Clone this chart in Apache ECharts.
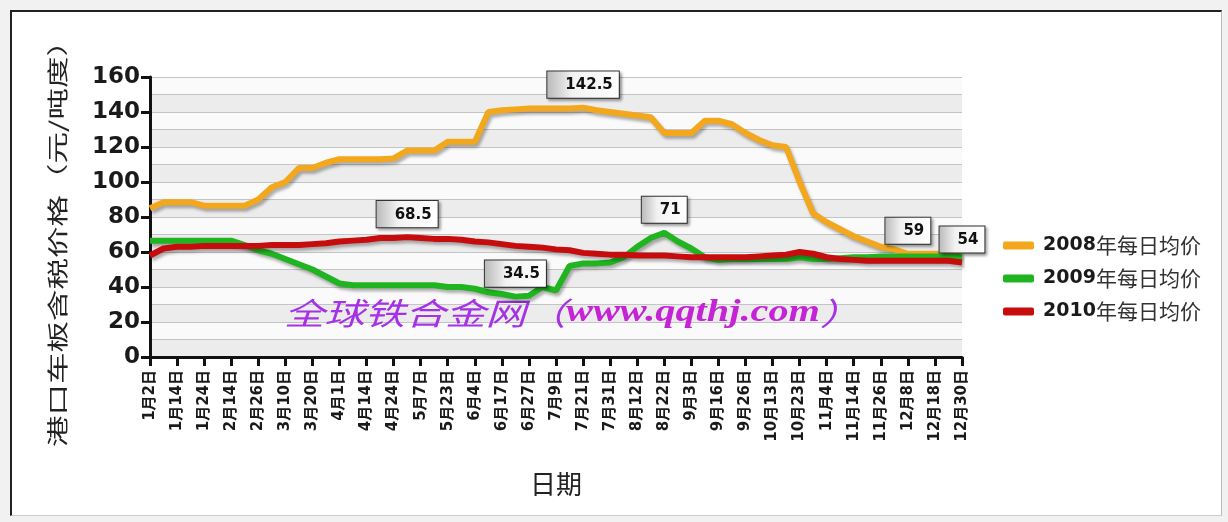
<!DOCTYPE html>
<html>
<head>
<meta charset="utf-8">
<title>港口车板含税价格</title>
<script src="https://cdn.jsdelivr.net/npm/echarts@6/dist/echarts.min.js"></script>
<style>
  html, body { margin: 0; padding: 0; background: #f1f1f1; }
  #frame { position: absolute; left: 10px; top: 10px; width: 1209px; height: 503px; background: #fff;
    border-top: 2px solid #222; border-left: 2px solid #222; border-right: 1px solid #bbb; border-bottom: 1px solid #ccc; }
  #chart { position: absolute; left: 0; top: 0; width: 1228px; height: 522px; }
</style>
</head>
<body>
<div id="frame"></div>
<div id="chart"></div>
<script>
// 日期（每两个取一个显示）
const dates = [
  '1月2日', '1月8日', '1月14日', '1月19日', '1月24日', '2月4日', '2月14日', '2月20日', '2月26日', '3月4日',
  '3月10日', '3月15日', '3月20日', '3月26日', '4月1日', '4月8日', '4月14日', '4月19日', '4月24日', '4月30日',
  '5月7日', '5月15日', '5月23日', '5月29日', '6月4日', '6月11日', '6月17日', '6月22日', '6月27日', '7月3日',
  '7月9日', '7月15日', '7月21日', '7月26日', '7月31日', '8月6日', '8月12日', '8月17日', '8月22日', '8月28日',
  '9月3日', '9月10日', '9月16日', '9月21日', '9月26日', '10月9日', '10月13日', '10月18日', '10月23日', '10月29日',
  '11月4日', '11月9日', '11月14日', '11月20日', '11月26日', '12月2日', '12月8日', '12月13日', '12月18日', '12月24日',
  '12月30日'
]
const seriesNames = ['2008年每日均价', '2009年每日均价', '2010年每日均价']
// 2008年
const price2008 = [
  85, 88.5, 88.5, 88.5, 86.5, 86.5, 86.5, 86.5, 90, 97,
  100, 108, 108, 111, 113, 113, 113, 113, 113.5, 118,
  118, 118, 123, 123, 123, 140, 141, 141.5, 142, 142,
  142, 142, 142.5, 141, 140, 139, 138, 137, 128, 128,
  128, 135, 135, 133, 128, 124, 121, 120, 100, 82,
  77, 73, 69, 66, 63, 61.5, 59, 59, 59, 59,
  59
]
// 2009年
const price2009 = [
  66.5, 66.5, 66.5, 66.5, 66.5, 66.5, 66.5, 64, 61, 59,
  56, 53, 50, 46, 42, 41, 41, 41, 41, 41,
  41, 41, 40, 40, 39, 37, 36, 34.5, 35, 40,
  38, 52, 53.5, 53.5, 54, 57, 63, 68, 71, 66,
  62, 57, 55.5, 56, 56, 56, 56, 56, 57, 56,
  56, 56.5, 57, 57, 57.5, 57.5, 57.5, 57.5, 57.5, 57.5,
  57
]
// 2010年
const price2010 = [
  58, 62, 63, 63, 63.5, 63.5, 63.5, 63.5, 63.5, 64,
  64, 64, 64.5, 65, 66, 66.5, 67, 68, 68, 68.5,
  68, 67.5, 67.5, 67, 66, 65.5, 64.5, 63.5, 63, 62.5,
  61.5, 61, 59.5, 59, 58.5, 58.5, 58, 58, 58, 57.5,
  57, 57, 57, 57, 57, 57.5, 58, 58.5, 60, 59,
  57, 56, 55.5, 55, 55, 55, 55, 55, 55, 55,
  54
]
const colors = ['#f2a71c', '#20b520', '#c60c0c']

const numFont = "'DejaVu Sans', 'Noto Sans CJK SC', sans-serif"
const cjkFont = "'Noto Sans CJK SC', sans-serif"

// 最高/最低值标签
const markLabel = {
  show: true,
  position: 'top',
  distance: 10,
  formatter: '{c}',
  fontFamily: numFont,
  fontWeight: 'bold',
  fontSize: 15,
  color: '#111',
  backgroundColor: new echarts.graphic.LinearGradient(0, 0, 1, 0, [
    { offset: 0, color: '#b8b8b8' },
    { offset: 0.35, color: '#f2f2f2' },
    { offset: 1, color: '#ffffff' }
  ]),
  borderColor: '#333',
  borderWidth: 1,
  padding: [6, 6, 5, 18],
  shadowColor: 'rgba(0,0,0,0.35)',
  shadowBlur: 3,
  shadowOffsetX: 2,
  shadowOffsetY: 2
}

function makeSeries(idx, data) {
  return {
    name: seriesNames[idx],
    type: 'line',
    data: data,
    showSymbol: false,
    symbol: 'none',
    color: colors[idx],
    lineStyle: {
      width: 6,
      color: colors[idx],
      shadowColor: 'rgba(0,0,0,0.3)',
      shadowBlur: 3,
      shadowOffsetX: 2,
      shadowOffsetY: 3
    },
    markPoint: {
      symbol: 'circle',
      symbolSize: 0,
      label: markLabel,
      data: [{ type: 'max' }, { type: 'min' }]
    }
  }
}

const chart = echarts.init(document.getElementById('chart'))
const option = {
  animation: false,
  backgroundColor: 'transparent',
  grid: { left: 150, right: 266, top: 77, bottom: 165 },
  legend: {
    orient: 'vertical',
    left: 998,
    top: 230,
    itemWidth: 31,
    itemHeight: 8,
    itemGap: 12,
    icon: 'roundRect',
    data: seriesNames,
    formatter: name => '{n|' + name.slice(0, 4) + '}{c|' + name.slice(4) + '}',
    textStyle: {
      rich: {
        n: { fontFamily: numFont, fontWeight: 'bold', fontSize: 19, color: '#1a1a1a', padding: [0, 0, 0, 4] },
        c: { fontFamily: cjkFont, fontSize: 21, color: '#333' }
      }
    }
  },
  xAxis: {
    type: 'category',
    boundaryGap: false,
    data: dates,
    name: '日期',
    nameLocation: 'middle',
    nameGap: 114,
    nameTextStyle: { fontFamily: cjkFont, fontSize: 26, color: '#222' },
    axisLine: { lineStyle: { color: '#111', width: 3 } },
    axisTick: { interval: 1, length: 9, lineStyle: { color: '#111', width: 3 } },
    axisLabel: {
      interval: 1,
      rotate: 90,
      margin: 13,
      fontFamily: numFont,
      fontWeight: 'bold',
      fontSize: 15,
      color: '#1a1a1a'
    },
    splitLine: { show: false }
  },
  yAxis: [{
    type: 'value',
    min: 0,
    max: 160,
    interval: 20,
    axisLine: { show: true, lineStyle: { color: '#111', width: 3 } },
    axisTick: { show: true, length: 9, lineStyle: { color: '#111', width: 3 } },
    axisLabel: {
      margin: 10,
      fontFamily: numFont,
      fontWeight: 'bold',
      fontSize: 23,
      color: '#1a1a1a'
    },
    splitLine: { show: false },
    z: 3
  }, {
    // 背景条纹和网格线
    type: 'value',
    min: 0,
    max: 160,
    interval: 10,
    position: 'left',
    axisLine: { show: false },
    axisTick: { show: false },
    axisLabel: { show: false },
    splitLine: { show: true, lineStyle: { color: '#c4c4c4', width: 1 } },
    splitArea: { show: true, areaStyle: { color: ['#ececec', '#fafafa'] } }
  }],
  graphic: [{
    type: 'text',
    x: 57,
    y: 236,
    rotation: Math.PI / 2,
    scaleX: 1.5,
    style: {
      text: '港口车板含税价格（元/吨度）',
      fontFamily: cjkFont,
      fontSize: 21,
      fill: '#222',
      align: 'center',
      verticalAlign: 'middle',
      textAlign: 'center',
      textVerticalAlign: 'middle'
    }
  }, {
    // 水印
    type: 'text',
    x: 284,
    y: 313,
    scaleX: 1.3,
    z: 1,
    style: {
      text: '{a|全球铁合金网（}{b|www.qqthj.com}{a|）}',
      fill: '#b22ee2',
      verticalAlign: 'middle',
      textVerticalAlign: 'middle',
      rich: {
        a: { fontFamily: cjkFont, fontStyle: 'italic', fontSize: 31, fill: '#a532e6', color: '#a532e6' },
        b: { fontFamily: "'Liberation Serif', serif", fontStyle: 'italic', fontWeight: 'bold', fontSize: 31, fill: '#c424d6', color: '#c424d6' }
      }
    }
  }],
  series: [
    makeSeries(0, price2008),
    makeSeries(1, price2009),
    makeSeries(2, price2010)
  ]
}
chart.setOption(option)
</script>
</body>
</html>
